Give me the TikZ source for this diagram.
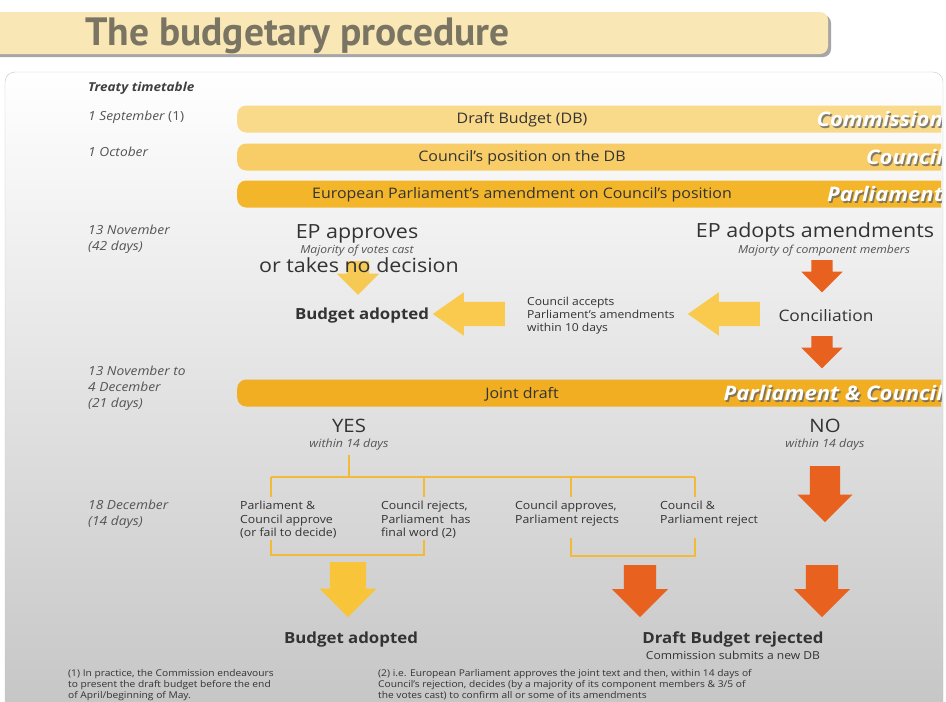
\documentclass[tikz,border=0pt]{standalone}
\usepackage{fontspec}
\setmainfont{Open Sans}[FakeStretch=1.1]
\newfontfamily\titlefont{PT Sans}
\usetikzlibrary{shapes.arrows}

\definecolor{banner}{HTML}{F9E7B5}
\definecolor{titletxt}{HTML}{7A7462}
\definecolor{panelbot}{HTML}{C4C4C4}
\definecolor{barA}{HTML}{F9D98A}
\definecolor{barB}{HTML}{F8CD68}
\definecolor{barC}{HTML}{F3B62A}
\definecolor{barD}{HTML}{F1AE22}
\definecolor{yel}{HTML}{F8C43A}
\definecolor{ora}{HTML}{E8611E}
\definecolor{treeline}{HTML}{F3BA38}
\definecolor{txt}{HTML}{333333}
\definecolor{datetxt}{HTML}{555555}

\tikzset{
  date/.style={anchor=north west, align=left, inner sep=0pt, text=datetxt,
    font=\fontsize{12.5}{15.7}\selectfont\itshape},
  bar/.style={anchor=west, minimum width=720pt, minimum height=27pt,
    rounded corners=9pt, inner sep=0pt},
  bartext/.style={inner sep=0pt, text=txt, font=\fontsize{14.5}{16}\selectfont},
  who/.style={anchor=east, inner sep=0pt,
    font=\fontsize{20}{22}\selectfont\bfseries\itshape},
  big/.style={anchor=base, inner sep=0pt, text=txt, font=\fontsize{19.5}{22}\selectfont},
  small/.style={anchor=base, inner sep=0pt, text=datetxt,
    font=\fontsize{11}{13}\selectfont\itshape},
  result/.style={anchor=base, inner sep=0pt, text=txt,
    font=\fontsize{15.3}{18}\selectfont\bfseries},
  branch/.style={anchor=north west, align=left, inner sep=0pt, text=txt,
    font=\fontsize{11.2}{13.5}\selectfont},
  note/.style={anchor=north west, align=left, inner sep=0pt, text=txt,
    font=\fontsize{9.3}{11}\selectfont},
  blockdown/.style={single arrow, shape border rotate=270, anchor=tail},
  blockleft/.style={single arrow, shape border rotate=180, anchor=tail,
    single arrow tip angle=70},
  tree/.style={treeline, line width=1.8pt}
}

\begin{document}
\begin{tikzpicture}[x=1pt, y=-1pt]
  \useasboundingbox (0,0) rectangle (946,702);

  % title banner
  \fill[gray!70, rounded corners=8pt] (-10,15) rectangle (831,57);
  \fill[banner, rounded corners=8pt] (-10,12) rectangle (828,54);
  \node[anchor=base west, inner sep=0pt, text=titletxt,
    font=\titlefont\fontsize{39.5}{42}\selectfont\bfseries] (title) at (85,45)
    {The budgetary procedure};

  % panel
  \draw[gray!45, top color=white, bottom color=panelbot, rounded corners=10pt]
    (5,72) rectangle (943,730);

  \node[anchor=base west, inner sep=0pt, text=black!75,
    font=\fontsize{12.3}{14}\selectfont\bfseries\itshape] (treaty) at (88,91) {Treaty timetable};

  % dates
  \node[date] (d1) at (88,111) {1 September \upshape(1)};
  \node[date] (d2) at (88,147) {1 October};
  \node[date] (d3) at (88,225) {13 November\\(42 days)};
  \node[date] (d4) at (88,366) {13 November to\\4 December\\(21 days)};
  \node[date] (d5) at (88,500) {18 December\\(14 days)};

  % bars
  \begin{scope}
    \clip (5,72) rectangle (941,720);
    \foreach \y/\c/\t/\w/\n in {119/barA/Draft Budget (DB)/Commission/db,
        157/barB/Council's position on the DB/Council/cp,
        194/barC/European Parliament's amendment on Council's position/Parliament/ep,
        393/barD/Joint draft/Parliament \& Council/jd} {
      \node[bar, fill=\c] (bar-\n) at (237,\y) {};
      \node[bartext] (bartext-\n) at (522,\y+1) {\t};
      \node[who, text=black!60, opacity=0.8] (shadow-\n) at (944.5,\y+1.5) {\w};
      \node[who, text=white] (who-\n) at (943,\y) {\w};
    }
  \end{scope}

  % EP approves
  \node[blockdown, fill=yel, opacity=0.85, minimum height=30pt, inner sep=11pt,
    single arrow head extend=10pt] (arrapp) at (358,261) {};
  \node[big] (epapp) at (357,238) {EP approves};
  \node[small] (votes) at (357,253) {Majority of votes cast};
  \node[big] (nodec) at (359,272) {or takes no decision};
  \node[result] (adopt1) at (362,319) {Budget adopted};

  % EP adopts amendments
  \node[big] (epadopt) at (815,237) {EP adopts amendments};
  \node[small] (members) at (824,253) {Majorty of component members};
  \node[blockdown, fill=ora, minimum height=32pt, inner sep=10.5pt,
    single arrow head extend=10pt] (arr1) at (822,260) {};
  \node[big, font=\fontsize{15.8}{18}\selectfont] (concil) at (826,321) {Conciliation};
  \node[blockdown, fill=ora, minimum height=32pt, inner sep=10.5pt,
    single arrow head extend=10pt] (arr2) at (822,336) {};

  % back to Budget adopted
  \node[blockleft, fill=yel!90!white, minimum height=72pt, inner sep=12pt,
    single arrow head extend=9.5pt] (larr2) at (760,314) {};
  \node[branch, font=\fontsize{11}{13}\selectfont] (accepts) at (527,297)
    {Council accepts\\Parliament's amendments\\within 10 days};
  \node[blockleft, fill=yel!90!white, minimum height=72pt, inner sep=12pt,
    single arrow head extend=9.5pt] (larr1) at (505,314) {};

  % YES / NO
  \node[big, font=\fontsize{18.5}{20}\selectfont] (yes) at (349,432) {YES};
  \node[small, font=\fontsize{11.3}{13}\selectfont\itshape] (yeswithin) at (349,447) {within 14 days};
  \node[big, font=\fontsize{18.5}{20}\selectfont] (no) at (825,432) {NO};
  \node[small, font=\fontsize{11.3}{13}\selectfont\itshape] (nowithin) at (825,447) {within 14 days};

  % tree
  \coordinate (ytop) at (349,455);
  \coordinate (yfork) at (349,477);
  \draw[tree] (ytop) -- (yfork);
  \foreach \x [count=\i] in {271,424,571,695} {
    \coordinate (top\i) at (\x,477);
    \coordinate (tick\i) at (\x,497);
    \draw[tree] (top\i) -- (tick\i);
  }
  \draw[tree] (top1) -- (top4);

  \node[branch] (b1) at (240,501) {Parliament \&\\Council approve\\(or fail to decide)};
  \node[branch] (b2) at (381,501) {Council rejects,\\Parliament\ \ has\\final word (2)};
  \node[branch] (b3) at (515,501) {Council approves,\\Parliament rejects};
  \node[branch] (b4) at (660,501) {Council \&\\Parliament reject};

  % brackets
  \coordinate (bl1) at (271,540); \coordinate (bl2) at (271,555);
  \coordinate (bl3) at (424,555); \coordinate (bl4) at (424,540);
  \draw[tree] (bl1) -- (bl2) -- (bl3) -- (bl4);
  \coordinate (br1) at (571,538); \coordinate (br2) at (571,556);
  \coordinate (br3) at (695,556); \coordinate (br4) at (695,538);
  \draw[tree] (br1) -- (br2) -- (br3) -- (br4);

  % final arrows
  \node[blockdown, fill=yel, minimum height=55pt, inner sep=18pt,
    single arrow head extend=10.5pt] (arrok) at (348,562) {};
  \node[blockdown, fill=ora, minimum height=52pt, inner sep=16pt,
    single arrow head extend=12pt] (arrrej) at (640,565) {};
  \node[blockdown, fill=ora, minimum height=56pt, inner sep=15pt,
    single arrow head extend=12.5pt] (arrno) at (825,466) {};
  \node[blockdown, fill=ora, minimum height=52pt, inner sep=16pt,
    single arrow head extend=12pt] (arrno2) at (822,565) {};

  \node[result] (adopt2) at (351,643) {Budget adopted};
  \node[result] (rejected) at (733,643) {Draft Budget rejected};
  \node[anchor=base, inner sep=0pt, text=txt, font=\fontsize{11}{13}\selectfont]
    (newdb) at (733,659) {Commission submits a new DB};

  % footnotes
  \node[note] (fn1) at (68,669) {(1) In practice, the Commission endeavours\\to present the draft budget before the end\\of April/beginning of May.};
  \node[note] (fn2) at (378,669) {(2) i.e. European Parliament approves the joint text and then, within 14 days of\\Council's rejection, decides (by a majority of its component members \& 3/5 of\\the votes cast) to confirm all or some of its amendments};
\end{tikzpicture}
\end{document}
